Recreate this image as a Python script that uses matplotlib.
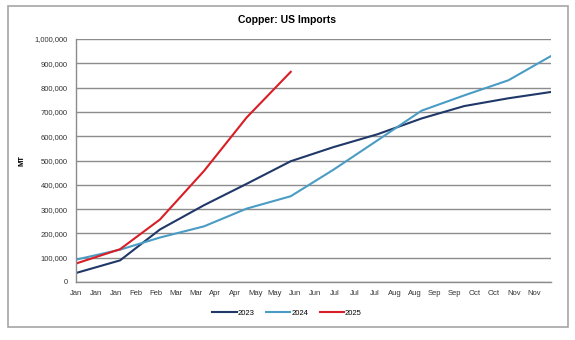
import matplotlib
matplotlib.use("Agg")
import matplotlib.pyplot as plt
import numpy as np
import pandas as pd
from matplotlib.patches import Rectangle

months = pd.date_range("2023-01-01", "2023-12-01", freq="MS")
s2023 = [37000, 89000, 216000, 316000, 404000, 497000, 555000, 608000, 673000, 724000, 756000, 782000]
s2024 = [92000, 133000, 183000, 229000, 302000, 353000, 462000, 583000, 705000, 768000, 830000, 930000]
s2025 = [76000, 135000, 257000, 457000, 677000, 865000]
tick_labels = ["Jan", "Jan", "Jan", "Feb", "Feb", "Mar", "Mar", "Apr", "Apr", "May", "May", "Jun",
               "Jun", "Jul", "Jul", "Jul", "Aug", "Aug", "Sep", "Sep", "Oct", "Oct", "Nov", "Nov"]
series_names = ["2023", "2024", "2025"]
colors = ["#1f3868", "#4a9cc4", "#d81e26"]

x = np.array((months - months[0]).days, dtype=float)
plt.rcParams['font.family'] = ['Liberation Sans', 'DejaVu Sans']

fig = plt.figure(figsize=(5.75, 3.4), dpi=100)
fig.patches.append(Rectangle((8/575, 1-327/340), 560/575, 321/340, transform=fig.transFigure,
                             fill=False, edgecolor="#a6a6a6", linewidth=1.2))
ax = fig.add_axes([76/575, 1-282/340, 475/575, 243/340])

for vals, c, n in zip([s2023, s2024, s2025], colors, series_names):
    ax.plot(x[:len(vals)], vals, color=c, linewidth=1.5, label=n)

ax.set_xlim(x[0], x[-1])
ax.set_ylim(0, 1_000_000)
ax.set_yticks(np.arange(0, 1_000_001, 100_000))
ax.yaxis.set_major_formatter(matplotlib.ticker.FuncFormatter(lambda v, p: f"{int(v):,}"))
ax.set_xticks(np.arange(len(tick_labels)) * 14)
ax.set_xticklabels(tick_labels)
ax.tick_params(axis="both", length=0, labelsize=5.5, colors="#333333", pad=6)
ax.grid(axis="y", color="#8c8c8c", linewidth=1)
ax.set_axisbelow(True)
for sp in ["top", "right"]:
    ax.spines[sp].set_visible(False)
for sp in ["left", "bottom"]:
    ax.spines[sp].set_color("#8c8c8c")
    ax.spines[sp].set_linewidth(1)
ax.set_ylabel("MT", fontsize=5.5, fontweight="bold")
ax.yaxis.set_label_coords((25-76)/475, 0.5)
fig.text(287/575, 1-20/340, "Copper: US Imports", ha="center", va="center",
         fontsize=7.5, fontweight="bold")
fig.legend(loc="center", bbox_to_anchor=(287/575, 1-313/340), ncol=3, frameon=False,
           fontsize=5.5, handlelength=3.2, handletextpad=0.1, columnspacing=1.5)
fig.savefig("out.png", dpi=100)
